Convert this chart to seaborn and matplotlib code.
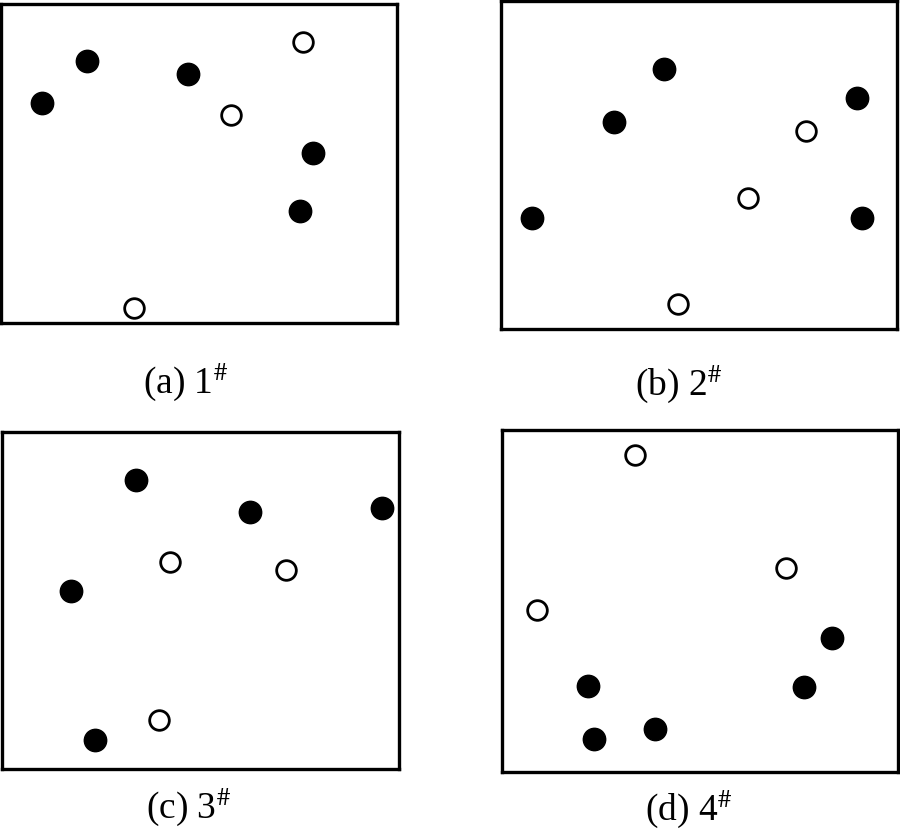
import matplotlib
matplotlib.use("Agg")
import matplotlib.pyplot as plt
import seaborn as sns
import pandas as pd

sns.set_theme(style="white")
plt.rcParams['font.family'] = ['Liberation Serif', 'DejaVu Serif']
plt.rcParams['mathtext.fontset'] = 'stix'
plt.rcParams['text.color'] = 'black'

# Panel labels
labels = ["(a) 1$^{\\#}$", "(b) 2$^{\\#}$", "(c) 3$^{\\#}$", "(d) 4$^{\\#}$"]

# Point positions (arbitrary units, y grows downward), per panel
a_filled_x = [42, 87, 188, 313, 300]
a_filled_y = [103, 61, 74, 153, 211]
a_hollow_x = [303, 231, 134]
a_hollow_y = [42, 115, 308]

b_filled_x = [532, 614, 664, 857, 862]
b_filled_y = [218, 122, 69, 98, 218]
b_hollow_x = [806, 748, 678]
b_hollow_y = [131, 198, 304]

c_filled_x = [136, 250, 382, 71, 95]
c_filled_y = [480, 512, 508, 591, 740]
c_hollow_x = [170, 286, 159]
c_hollow_y = [562, 570, 720]

d_filled_x = [832, 588, 804, 594, 655]
d_filled_y = [638, 686, 687, 739, 729]
d_hollow_x = [635, 786, 537]
d_hollow_y = [455, 568, 610]

# Axis ranges for each panel (x0, x1, y_top, y_bottom)
ranges = [(1, 397, 4, 323), (501, 897, 1, 329), (2, 399, 432, 769), (502, 898, 430, 772)]

panels = [
    (a_filled_x, a_filled_y, a_hollow_x, a_hollow_y),
    (b_filled_x, b_filled_y, b_hollow_x, b_hollow_y),
    (c_filled_x, c_filled_y, c_hollow_x, c_hollow_y),
    (d_filled_x, d_filled_y, d_hollow_x, d_hollow_y),
]
label_pos = [(186, 382), (679, 384), (189, 807), (689, 809)]

W, H = 900, 836
fig = plt.figure(figsize=(9, 8.36), dpi=100)
fig.patch.set_facecolor('white')

for (fx, fy, hx, hy), (x0, x1, yt, yb), lab, (lx, ly) in zip(panels, ranges, labels, label_pos):
    ax = fig.add_axes([x0 / W, 1 - yb / H, (x1 - x0) / W, (yb - yt) / H])
    fdf = pd.DataFrame({'x': fx, 'y': fy})
    hdf = pd.DataFrame({'x': hx, 'y': hy})
    sns.scatterplot(data=fdf, x='x', y='y', ax=ax, color='black', edgecolor='black',
                    s=260, linewidth=1, zorder=3, legend=False)
    sns.scatterplot(data=hdf, x='x', y='y', ax=ax, color='white', edgecolor='black',
                    s=200, linewidth=2, zorder=3, legend=False)
    ax.set_xlim(x0, x1)
    ax.set_ylim(yb, yt)
    ax.set_xticks([])
    ax.set_yticks([])
    ax.set_xlabel('')
    ax.set_ylabel('')
    for sp in ax.spines.values():
        sp.set_visible(True)
        sp.set_color('black')
        sp.set_linewidth(2.4)
    fig.text(lx / W, 1 - ly / H, lab, ha='center', va='center', fontsize=27,
             color='black', family=['Liberation Serif', 'DejaVu Serif'])

fig.savefig('out.png', dpi=100, facecolor='white')
